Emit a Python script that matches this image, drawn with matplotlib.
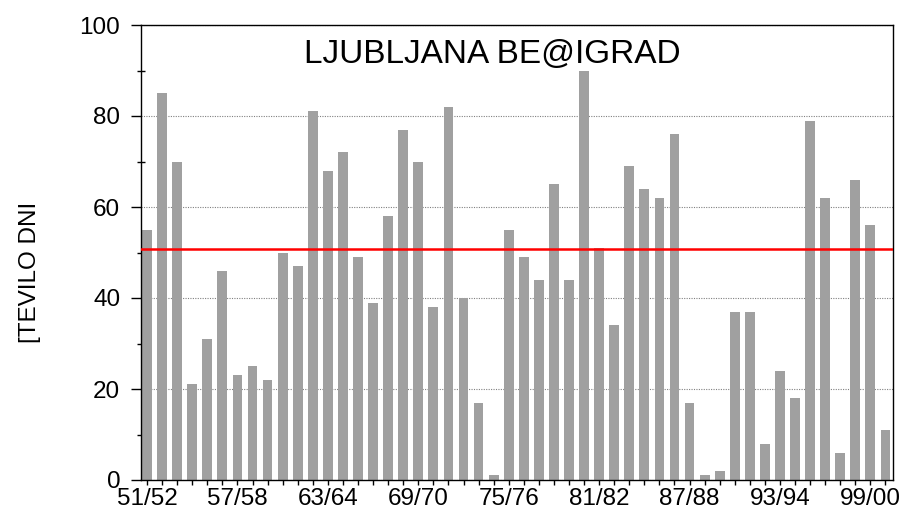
import matplotlib
matplotlib.use("Agg")
import matplotlib.pyplot as plt
import numpy as np

plt.rcParams['font.family'] = ['Liberation Sans', 'DejaVu Sans']

seasons = ['%02d/%02d' % (y % 100, (y + 1) % 100) for y in range(1951, 2001)]
days = [55, 85, 70, 21, 31, 46, 23, 25, 22, 50,
        47, 81, 68, 72, 49, 39, 58, 77, 70, 38,
        82, 40, 17, 1, 55, 49, 44, 65, 44, 90,
        51, 34, 69, 64, 62, 76, 17, 1, 2, 37,
        37, 8, 24, 18, 79, 62, 6, 66, 56, 11]
mean_days = 50.7
title = 'LJUBLJANA BE@IGRAD'
ylabel = '[TEVILO DNI'

fig = plt.figure(figsize=(9.04, 5.15), dpi=100)
ax = fig.add_axes([141/904, 1-480/515, 752/904, 455/515])
ax.set_axisbelow(True)

x = np.arange(len(days))
ax.bar(x, days, width=0.65, color='#a0a0a0', zorder=2)
ax.axhline(mean_days, color='#ff0000', lw=1.8, zorder=3)

ax.set_xlim(-0.4, len(days) - 0.5)
ax.set_ylim(0, 100)

ax.set_yticks([0, 20, 40, 60, 80, 100])
ax.set_yticks(np.arange(10, 100, 20), minor=True)
ax.tick_params(axis='y', which='major', direction='out', length=7, width=1,
               labelsize=17.5, pad=8)
ax.tick_params(axis='y', which='minor', direction='inout', length=6, width=1)

ax.set_xticks(x[::6])
ax.set_xticklabels(seasons[::6])
ax.set_xticks(x, minor=True)
ax.tick_params(axis='x', which='both', direction='inout', length=7, width=1,
               labelsize=17.5, pad=2)

ax.grid(axis='y', which='major', color='#808080', linestyle=(0, (1, 1.2)), lw=0.8)

for s in ax.spines.values():
    s.set_linewidth(1)

ax.text(0.467, 0.935, title, transform=ax.transAxes, ha='center', va='center',
        fontsize=24)
fig.text(30/904, 1-272/515, ylabel, rotation=90, ha='center', va='center',
         fontsize=17.5)

fig.savefig('out.png', dpi=100)
